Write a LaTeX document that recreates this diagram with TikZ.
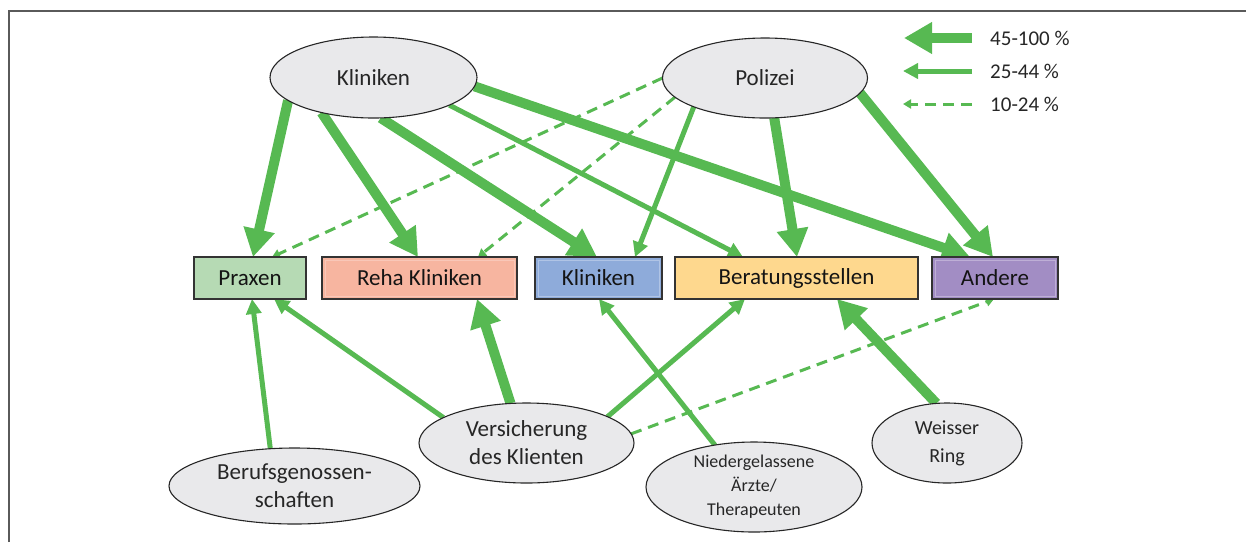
\documentclass[tikz,border=0pt]{standalone}
\usepackage{fontspec}
\setmainfont{Carlito}
\usetikzlibrary{arrows.meta,shapes.geometric,backgrounds}
\definecolor{arr}{HTML}{57B952}
\definecolor{ellfill}{HTML}{E9E9EB}
\definecolor{frame}{HTML}{5A5A5A}
\definecolor{cpraxen}{HTML}{B6DAB4}
\definecolor{creha}{HTML}{F7B5A0}
\definecolor{cklin}{HTML}{8EABDA}
\definecolor{cber}{HTML}{FED88E}
\definecolor{cand}{HTML}{A28DC4}
\begin{document}
\begin{tikzpicture}[x=1pt,y=-1pt,
  ell/.style={ellipse, draw=black!85, line width=1.1pt, fill=ellfill, inner xsep=0pt, inner ysep=-6pt, outer sep=0pt, align=center, text=black!85, font=\fontsize{23}{28}\selectfont},
  box/.style={rectangle, draw=black!80, line width=1.2pt, minimum height=42pt, inner sep=0pt, outer sep=0pt, text=black!92, font=\fontsize{23}{28}\selectfont},
  inset/.style={path picture={\draw[#1, line width=0.9pt] ([shift={(3pt,-3pt)}]path picture bounding box.north west) rectangle ([shift={(-3pt,3pt)}]path picture bounding box.south east);}},
  big/.style={draw=arr, line width=10pt, -{Triangle[length=28pt,width=30pt]}},
  mid/.style={draw=arr, line width=5pt, -{Triangle[length=15pt,width=15pt]}},
  dsh/.style={draw=arr, line width=3pt, dash pattern=on 11pt off 7pt, -{Triangle[length=8pt,width=9pt]}},
  legtext/.style={anchor=west, inner sep=0pt, text=black!85, font=\fontsize{21}{25}\selectfont}
]
\useasboundingbox (0,0) rectangle (1246,542);
\coordinate (fa) at (9,542);
\coordinate (fb) at (9,11);
\coordinate (fc) at (1246,11);
\draw[frame, line width=1.6pt] (fa) -- (fb) -- (fc);

% top ellipses
\node[ell, minimum width=207pt, minimum height=81pt] (kl) at (373.5,77.5) {Kliniken};
\node[ell, minimum width=205pt, minimum height=80pt] (po) at (765,78) {Polizei};

% boxes
\node[box, fill=cpraxen, minimum width=112pt] (praxen) at (250,278) {Praxen};
\node[box, fill=creha, minimum width=195pt, inset=creha!75!white] (reha) at (419.5,278) {Reha Kliniken};
\node[box, fill=cklin, minimum width=127pt, inset=cklin!70!white] (kb) at (598.5,278) {Kliniken};
\node[box, fill=cber, minimum width=243pt] (ber) at (796.5,278) {Beratungsstellen};
\node[box, fill=cand, minimum width=126pt, inset=cand!70!white] (and) at (995,278) {Andere};

% bottom ellipses
\node[ell, minimum width=251pt, minimum height=76pt] (bg) at (294.5,486) {Berufsgenossen-\\schaften};
\node[ell, minimum width=215pt, minimum height=80pt] (vs) at (526.5,443) {Versicherung\\des Klienten};
\node[ell, minimum width=216pt, minimum height=90pt, font=\fontsize{18}{24}\selectfont, inner ysep=-8pt] (nd) at (754,487) {Niedergelassene\\Ärzte/\\Therapeuten};
\node[ell, minimum width=150pt, minimum height=80pt, font=\fontsize{20}{28}\selectfont] (wr) at (947,443) {Weisser\\Ring};

\begin{pgfonlayer}{background}
% from Kliniken (top)
\draw[big] (kl.195) -- ([xshift=3pt]praxen.north);
\draw[big] (kl.214) -- ([xshift=-1.5pt]reha.north);
\draw[big] (kl.280) -- ([xshift=-1.5pt]kb.north);
\draw[mid] (kl.340) -- ([xshift=-53.5pt]ber.north);
\draw[big] (kl.355) -- ([xshift=-25pt]and.north);
% from Polizei
\draw[dsh] (po.180) -- ([xshift=22pt]praxen.north);
\draw[dsh] (po.192) -- ([xshift=58.5pt]reha.north);
\draw[mid] (po.202) -- ([xshift=36.5pt]kb.north);
\draw[big] (po.283) -- ([xshift=0.5pt]ber.north);
\draw[big] (po.351) -- ([xshift=-2pt]and.north);
% from bottom
\draw[mid] (bg.123) -- ([xshift=2pt]praxen.south);
\draw[mid] (vs.163) -- ([xshift=24pt]praxen.south);
\draw[big] (vs.112) -- ([xshift=57.5pt]reha.south);
\draw[mid] (vs.18) -- ([xshift=-51.5pt]ber.south);
\draw[dsh] (vs.5) -- ([xshift=-1pt]and.south);
\draw[mid] (nd.133) -- ([xshift=0.5pt]kb.south);
\draw[big] (wr.105) -- ([xshift=40.5pt]ber.south);
\end{pgfonlayer}

% legend
\coordinate (l1a) at (972,38);
\coordinate (l1b) at (904,38);
\coordinate (l2a) at (972,71);
\coordinate (l2b) at (903,71);
\coordinate (l3a) at (972,104);
\coordinate (l3b) at (903,104);
\draw[big] (l1a) -- (l1b);
\draw[mid] (l2a) -- (l2b);
\draw[dsh] (l3a) -- (l3b);
\node[legtext] (t1) at (990,38) {45-100 \%};
\node[legtext] (t2) at (990,71) {25-44 \%};
\node[legtext] (t3) at (990,104) {10-24 \%};
\end{tikzpicture}
\end{document}
